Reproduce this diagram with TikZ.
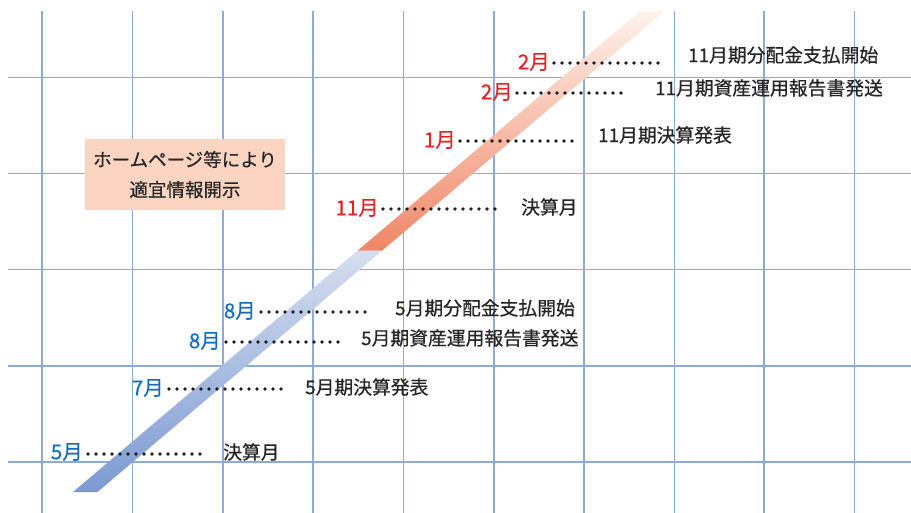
\documentclass[tikz,border=0pt]{standalone}
\usepackage{fontspec}
\newfontfamily\jp[FakeBold=0.6]{Noto Sans CJK JP}
\definecolor{gridc}{RGB}{140,170,222}
\definecolor{monthblue}{RGB}{20,110,190}
\definecolor{monthred}{RGB}{232,32,40}
\definecolor{evtext}{RGB}{38,38,38}
\definecolor{peach}{RGB}{252,213,194}
\definecolor{bandbluelo}{RGB}{124,154,210}
\definecolor{bandbluehi}{RGB}{214,222,240}
\definecolor{bandorlo}{RGB}{239,134,102}
\definecolor{bandorhi}{RGB}{254,242,236}
\definecolor{dotc}{RGB}{30,30,30}
\begin{document}
\begin{tikzpicture}[x=1pt,y=-1pt,
  gridline/.style={draw=gridc,line width=1.3pt},
  monthb/.style={font=\jp\fontsize{20.5}{22}\selectfont,text=monthblue,inner sep=0pt,anchor=east},
  monthr/.style={font=\jp\fontsize{20.5}{22}\selectfont,text=monthred,inner sep=0pt,anchor=east},
  evt/.style={font=\jp\fontsize{18.8}{20}\selectfont,text=evtext,inner sep=0pt,anchor=west},
  dotline/.style={draw=dotc,line width=3.6pt,line cap=round,dash pattern=on 0pt off 8pt},
  infobox/.style={fill=peach,minimum width=200pt,minimum height=71pt,align=center,
    font=\jp\fontsize{18.5}{30}\selectfont,text=evtext,inner sep=0pt}]
\useasboundingbox (0,0) rectangle (911,513);
% grid
\foreach \x in {42,132.5,223,313,403.5,494,584,674.5,764,854.5}
  \draw[gridline] (\x,11) -- (\x,513);
\foreach \y in {77.5,173.5,269.5,366,462}
  \draw[gridline] (8,\y) -- (911,\y);
% band
\shade[bottom color=bandbluelo,top color=bandbluehi]
  (73,492) -- (97.5,492) -- (382,250.7) -- (357.5,250.7) -- cycle;
\shade[bottom color=bandorlo,top color=bandorhi]
  (357.5,250.7) -- (382,250.7) -- (664.5,11) -- (640,11) -- cycle;
% info box
\node[infobox] (info) at (185,174.5) {ホームページ等により\\適宜情報開示};
% months, dots, events
\node[monthb] (m1) at (83,452) {5月};
\node[evt] (e1) at (223,452) {決算月};
\coordinate (d1) at (203,454);
\draw[dotline] ([xshift=5pt,yshift=-2pt]m1.east) -- (d1);

\node[monthb] (m2) at (164,388) {7月};
\node[evt] (e2) at (305,387) {5月期決算発表};
\coordinate (d2) at (283,389);
\draw[dotline] ([xshift=5pt,yshift=-1pt]m2.east) -- (d2);

\node[monthb] (m3) at (221,341) {8月};
\node[evt] (e3) at (361,338) {5月期資産運用報告書発送};
\coordinate (d3) at (338,342);
\draw[dotline] ([xshift=5pt,yshift=-1pt]m3.east) -- (d3);

\node[monthb] (m4) at (256,311) {8月};
\node[evt] (e4) at (395,308) {5月期分配金支払開始};
\coordinate (d4) at (372,312);
\draw[dotline] ([xshift=5pt,yshift=-1pt]m4.east) -- (d4);

\node[monthr] (m5) at (379,208) {11月};
\node[evt] (e5) at (521,207) {決算月};
\coordinate (d5) at (495,209);
\draw[dotline] ([xshift=4pt,yshift=-1pt]m5.east) -- (d5);

\node[monthr] (m6) at (456,140) {1月};
\node[evt] (e6) at (598,135) {11月期決算発表};
\coordinate (d6) at (572,141);
\draw[dotline] ([xshift=4pt,yshift=-1pt]m6.east) -- (d6);

\node[monthr] (m7) at (513,92) {2月};
\node[evt] (e7) at (655,88) {11月期資産運用報告書発送};
\coordinate (d7) at (628,93);
\draw[dotline] ([xshift=4pt,yshift=-1pt]m7.east) -- (d7);

\node[monthr] (m8) at (550,62) {2月};
\node[evt] (e8) at (688,55) {11月期分配金支払開始};
\coordinate (d8) at (665,63);
\draw[dotline] ([xshift=4pt,yshift=-1pt]m8.east) -- (d8);
\end{tikzpicture}
\end{document}
